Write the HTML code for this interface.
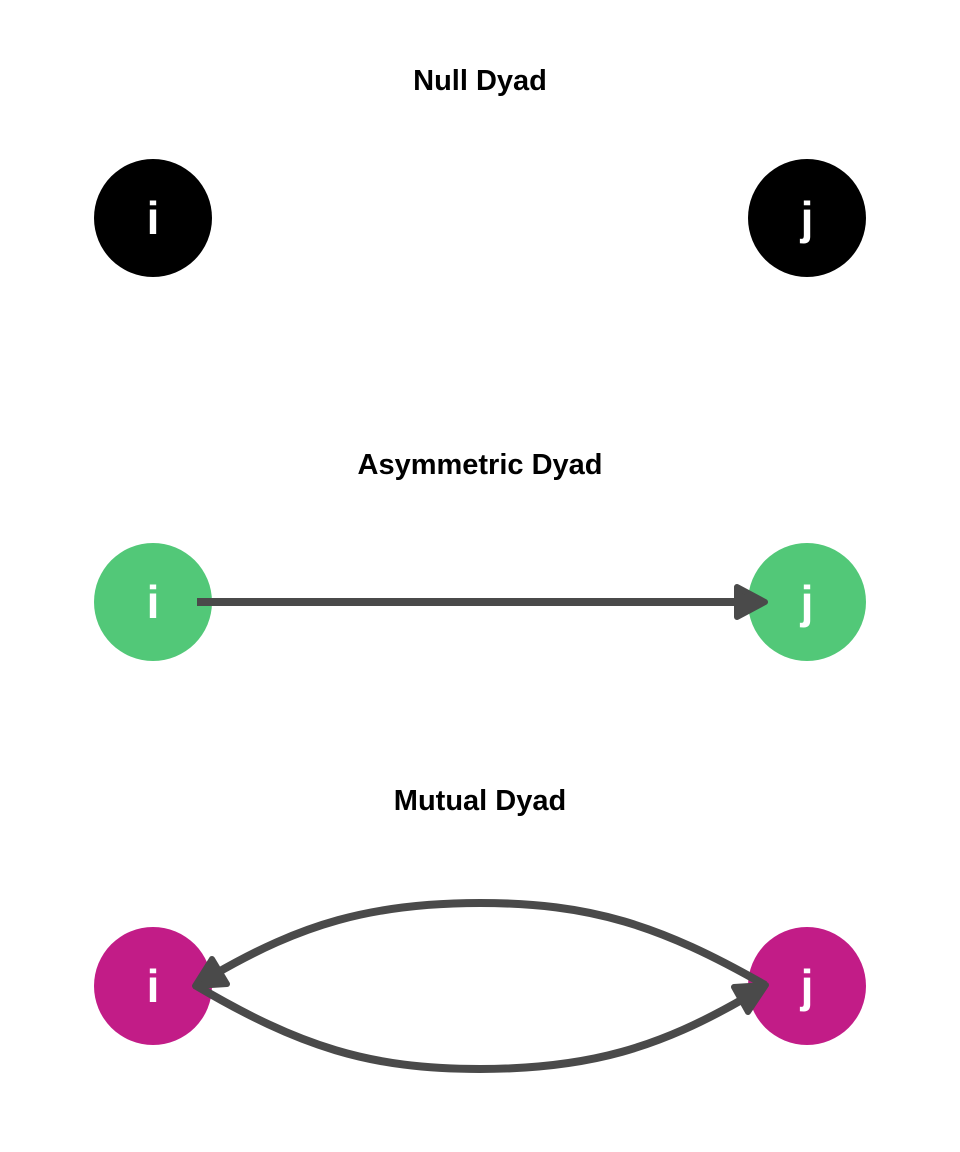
<!DOCTYPE html>
<html><head><style>body{margin:0;background:#fff}svg{display:block}</style></head><body>
<svg width="960" height="1152" xmlns="http://www.w3.org/2000/svg" font-family="Liberation Sans, sans-serif">
<rect width="960" height="1152" fill="#fff"/>
<g font-weight="bold" font-size="29" text-anchor="middle" fill="#000">
<text x="480" y="90">Null Dyad</text>
<text x="480" y="474">Asymmetric Dyad</text>
<text x="480" y="810">Mutual Dyad</text>
</g>
<circle cx="153" cy="218" r="59" fill="#000"/>
<circle cx="807" cy="218" r="59" fill="#000"/>
<circle cx="153" cy="602" r="59" fill="#52c878"/>
<circle cx="807" cy="602" r="59" fill="#52c878"/>
<circle cx="153" cy="986" r="59" fill="#c21c87"/>
<circle cx="807" cy="986" r="59" fill="#c21c87"/>
<g fill="none" stroke="#4a4a4a" stroke-width="8">
<line x1="197" y1="602" x2="740" y2="602"/>
<path d="M765 985 C660 925 590 903 480 903 C370 903 300 925 215 974"/>
<path d="M195 985 C300 1047 370 1069 480 1069 C590 1069 660 1047 745 998"/>
</g>
<g fill="#4a4a4a" stroke="#4a4a4a" stroke-width="6" stroke-linejoin="round">
<polygon points="765,602 737,587 737,617"/>
<polygon points="195,986 227,984 212,959"/>
<polygon points="766,985 748,1012 734,987"/>
</g>
<g font-size="46" font-weight="bold" fill="#fff" text-anchor="middle">
<text x="153" y="234">i</text><text x="807" y="234">j</text>
<text x="153" y="618">i</text><text x="807" y="618">j</text>
<text x="153" y="1002">i</text><text x="807" y="1002">j</text>
</g>
</svg>
</body></html>
